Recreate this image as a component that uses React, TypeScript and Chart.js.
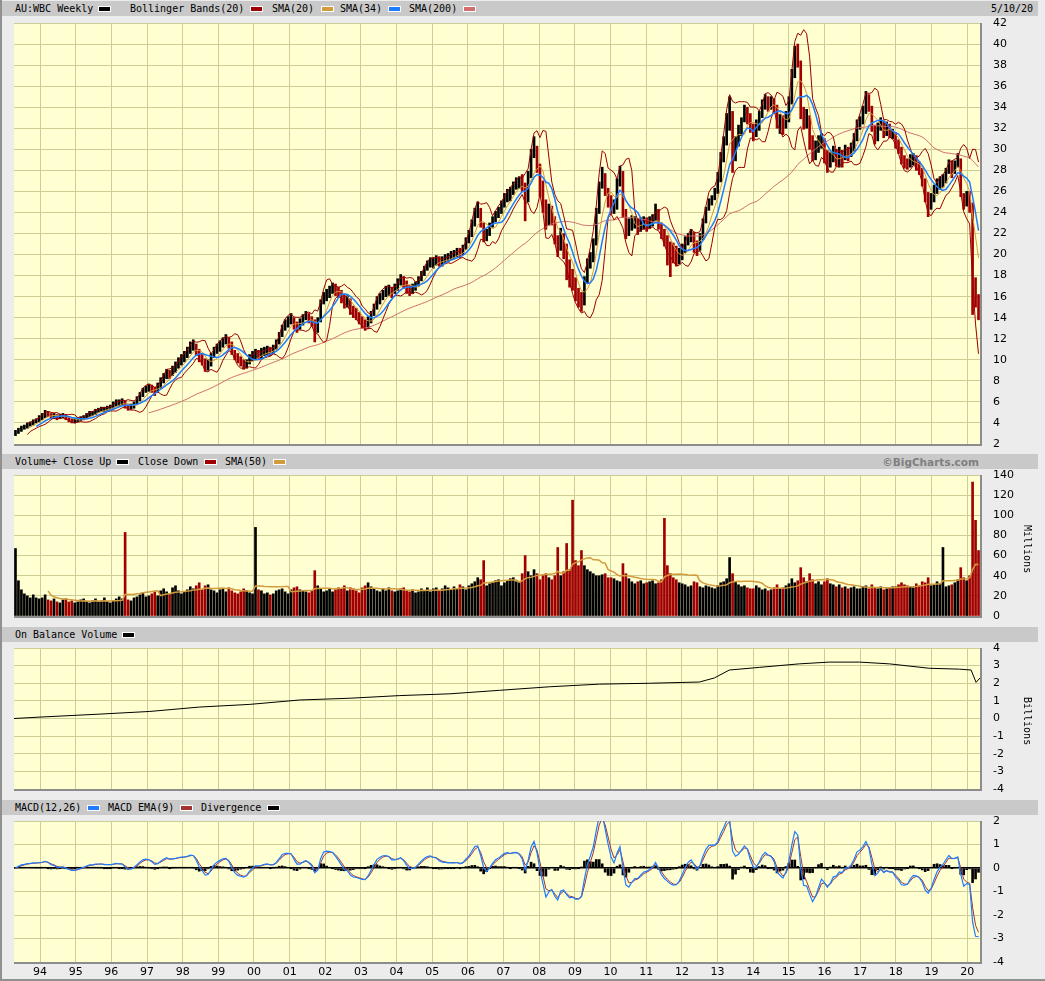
import React, { useEffect, useRef } from "react";
import { Chart, registerables } from "chart.js";
Chart.register(...registerables);

// ---------- axis definitions ----------
const X_MIN = 1993.27;
const X_MAX = 2020.36;
const yearTicks = [1994, 1995, 1996, 1997, 1998, 1999, 2000, 2001, 2002, 2003, 2004, 2005, 2006, 2007, 2008, 2009, 2010, 2011, 2012, 2013, 2014, 2015, 2016, 2017, 2018, 2019, 2020];
const yearLabels = ["94", "95", "96", "97", "98", "99", "00", "01", "02", "03", "04", "05", "06", "07", "08", "09", "10", "11", "12", "13", "14", "15", "16", "17", "18", "19", "20"];

// ---------- monthly closes (AUD), Apr 1993 .. May 2020 ----------
const closes: number[] = [
  3.0, 3.3, 3.5, 3.6, 3.8, 3.9, 4.1, 4.2, 4.4,
  4.6, 4.9, 4.8, 4.6, 4.7, 4.5, 4.6, 4.7, 4.5, 4.3, 4.2, 4.2,
  4.3, 4.4, 4.5, 4.7, 4.9, 4.9, 5.1, 5.2, 5.3, 5.3, 5.4, 5.5,
  5.7, 5.9, 5.9, 6.0, 5.6, 5.4, 5.5, 5.8, 6.2, 6.6, 7.0, 7.2,
  7.3, 7.2, 7.0, 7.4, 7.9, 8.3, 8.7, 8.6, 9.0, 9.3, 9.7, 10.0,
  10.3, 10.7, 11.2, 11.4, 10.9, 10.2, 10.0, 9.3, 9.5, 10.2, 10.7, 11.0,
  11.3, 11.7, 11.9, 11.6, 10.8, 10.3, 10.0, 9.8, 9.5, 9.6, 10.1, 10.3,
  10.5, 10.4, 10.6, 10.8, 10.9, 10.8, 11.0, 11.5, 12.2, 12.9, 13.3, 13.6,
  13.9, 13.3, 13.0, 13.4, 13.9, 14.2, 13.9, 13.6, 12.6, 13.4, 15.3, 16.0,
  16.2, 16.5, 16.8, 16.6, 16.4, 16.0, 15.5, 15.6, 14.8, 14.5, 14.3, 13.9,
  13.5, 13.2, 13.6, 14.2, 14.8, 15.5, 15.8, 16.2, 16.5, 16.6, 16.4, 16.8,
  17.2, 17.6, 17.3, 16.8, 16.6, 16.8, 17.0, 17.5, 18.0, 18.5, 18.9, 19.2,
  19.2, 19.5, 19.3, 19.4, 19.6, 19.7, 19.9, 20.0, 20.2, 20.1, 20.5, 21.2,
  21.8, 22.8, 23.8, 24.2, 23.0, 21.7, 21.8, 22.6, 23.2, 23.7, 24.0, 24.6,
  25.2, 25.6, 25.8, 26.4, 26.8, 26.9, 26.5, 25.0, 27.4, 29.5, 30.2, 28.5,
  26.5, 25.0, 23.0, 24.0, 23.5, 21.5, 20.5, 21.5, 20.5, 19.0, 18.0, 17.5,
  16.3, 15.6, 15.3, 17.5, 18.8, 19.5, 21.0, 24.0, 26.5, 27.5, 26.0, 25.2,
  24.5, 24.5, 26.8, 27.8, 24.0, 22.3, 22.5, 23.0, 23.0, 22.5, 22.8, 23.0,
  22.8, 23.0, 23.3, 24.0, 22.8, 22.0, 21.5, 21.0, 20.3, 19.8, 19.5, 19.7,
  20.3, 21.0, 21.5, 21.8, 21.0, 20.5, 21.5, 23.0, 24.0, 24.8, 25.2, 25.8,
  27.0, 29.0, 30.5, 32.5, 33.5, 29.0, 30.5, 31.5, 32.5, 33.5, 33.2, 32.0,
  31.5, 32.0, 33.0, 34.0, 34.5, 34.2, 34.5, 34.0, 32.5, 32.5, 32.0, 33.0,
  34.5, 37.0, 39.0, 38.5, 33.5, 32.5, 33.0, 31.0, 29.5, 30.0, 30.5, 31.0,
  29.5, 28.5, 29.0, 29.5, 29.0, 29.5, 29.0, 29.8, 29.5, 30.0, 31.0, 32.2,
  32.5, 33.5, 34.8, 34.0, 32.0, 31.0, 32.0, 32.5, 31.5, 32.0, 31.5, 31.5,
  30.5, 30.0, 29.0, 28.8, 28.5, 29.0, 29.0, 28.5, 28.0, 27.0, 25.5, 24.8,
  25.2, 26.0, 26.5, 26.8, 27.0, 27.8, 28.5, 28.0, 28.5, 29.0, 26.0, 24.8,
  25.5, 24.8, 17.5, 15.8, 14.8,
];
const highs: number[] = [
  3.3, 3.5, 3.7, 3.8, 4.0, 4.1, 4.3, 4.4, 4.7,
  4.9, 5.2, 5.1, 4.9, 4.9, 4.8, 4.8, 4.9, 4.8, 4.6, 4.4, 4.4,
  4.5, 4.6, 4.7, 4.9, 5.1, 5.1, 5.3, 5.4, 5.5, 5.5, 5.6, 5.7,
  6.0, 6.2, 6.2, 6.3, 6.1, 5.8, 5.8, 6.0, 6.5, 6.9, 7.3, 7.5,
  7.7, 7.6, 7.4, 7.8, 8.3, 8.7, 9.1, 9.0, 9.4, 9.8, 10.2, 10.5,
  10.8, 11.2, 11.7, 11.9, 11.5, 11.0, 10.5, 10.1, 10.0, 10.6, 11.2, 11.5,
  11.8, 12.1, 12.4, 12.1, 11.7, 10.9, 10.6, 10.3, 10.0, 10.0, 10.5, 10.8,
  11.0, 10.9, 11.1, 11.2, 11.3, 11.2, 11.4, 11.9, 12.6, 13.3, 13.8, 14.1,
  14.4, 14.0, 13.6, 13.9, 14.3, 14.6, 14.4, 14.1, 13.8, 14.0, 15.7, 16.4,
  16.7, 17.0, 17.3, 17.2, 16.9, 16.6, 16.2, 16.1, 15.8, 15.1, 14.9, 14.5,
  14.1, 13.8, 14.1, 14.6, 15.3, 16.0, 16.3, 16.6, 17.0, 17.1, 16.9, 17.2,
  17.7, 18.1, 17.9, 17.5, 17.1, 17.2, 17.4, 17.9, 18.4, 18.9, 19.4, 19.7,
  19.7, 19.9, 19.8, 19.8, 20.0, 20.1, 20.3, 20.4, 20.6, 20.6, 20.9, 21.6,
  22.3, 23.3, 24.4, 25.0, 24.4, 23.0, 22.4, 23.0, 23.6, 24.1, 24.5, 25.1,
  25.8, 26.2, 26.4, 26.9, 27.3, 27.4, 27.6, 26.8, 27.9, 30.0, 31.2, 30.3,
  28.6, 27.0, 25.2, 24.8, 24.6, 23.6, 21.8, 22.5, 22.0, 21.0, 19.5, 18.6,
  17.8, 16.8, 16.4, 17.9, 19.6, 20.2, 21.5, 24.4, 26.9, 28.3, 27.7, 26.3,
  25.6, 25.2, 27.2, 28.4, 27.9, 24.3, 23.4, 23.7, 23.6, 23.4, 23.5, 23.6,
  23.5, 23.6, 23.8, 24.8, 24.3, 23.0, 22.4, 21.8, 21.2, 21.1, 20.8, 20.6,
  21.0, 21.7, 22.0, 22.4, 22.1, 21.3, 22.0, 23.4, 24.5, 25.3, 25.6, 26.3,
  27.8, 29.7, 31.2, 33.4, 35.0, 33.6, 31.2, 32.3, 33.0, 34.2, 34.0, 33.4,
  32.4, 32.8, 33.6, 34.7, 35.2, 35.0, 35.0, 34.8, 34.2, 33.3, 33.2, 33.6,
  35.0, 37.6, 39.8, 40.0, 38.4, 34.0, 33.8, 33.2, 31.3, 30.8, 31.3, 31.5,
  31.0, 29.9, 29.7, 30.3, 30.0, 30.2, 29.9, 30.4, 30.2, 30.6, 31.5, 32.8,
  33.1, 34.1, 35.5, 35.2, 34.1, 32.3, 32.5, 33.0, 32.7, 32.6, 32.4, 31.9,
  31.6, 30.9, 30.2, 29.4, 29.1, 29.5, 29.6, 29.4, 28.8, 28.2, 27.2, 25.9,
  25.8, 26.6, 27.2, 27.4, 27.6, 28.2, 29.0, 28.9, 28.9, 29.6, 29.1, 25.8,
  26.0, 26.0, 24.9, 17.8, 16.2,
];
const lows: number[] = [
  2.8, 3.0, 3.2, 3.4, 3.5, 3.7, 3.8, 4.0, 4.1,
  4.3, 4.5, 4.6, 4.4, 4.4, 4.3, 4.4, 4.5, 4.3, 4.1, 4.0, 4.0,
  4.1, 4.2, 4.3, 4.4, 4.6, 4.7, 4.8, 5.0, 5.1, 5.1, 5.2, 5.3,
  5.4, 5.6, 5.6, 5.7, 5.4, 5.2, 5.3, 5.4, 5.8, 6.1, 6.5, 6.9,
  7.0, 6.9, 6.6, 6.9, 7.3, 7.8, 8.2, 8.2, 8.5, 8.8, 9.2, 9.5,
  9.8, 10.2, 10.6, 10.9, 10.4, 9.8, 9.5, 8.9, 9.0, 9.4, 10.2, 10.6,
  10.8, 11.2, 11.5, 11.1, 10.5, 10.0, 9.7, 9.4, 9.1, 9.2, 9.6, 9.9,
  10.0, 10.0, 10.1, 10.4, 10.5, 10.4, 10.6, 11.0, 11.5, 12.2, 12.8, 13.1,
  13.4, 12.9, 12.6, 12.9, 13.3, 13.8, 13.5, 13.2, 11.7, 12.6, 13.6, 15.3,
  15.6, 15.9, 16.3, 16.1, 15.9, 15.4, 14.9, 15.0, 14.3, 14.0, 13.8, 13.4,
  13.0, 12.8, 13.0, 13.5, 14.2, 14.8, 15.3, 15.7, 16.0, 16.1, 15.9, 16.3,
  16.6, 17.1, 16.8, 16.3, 16.1, 16.3, 16.6, 17.0, 17.5, 18.0, 18.5, 18.8,
  18.7, 19.0, 18.9, 18.9, 19.2, 19.3, 19.5, 19.6, 19.8, 19.7, 20.0, 20.5,
  21.1, 21.7, 22.7, 23.5, 22.6, 21.2, 21.3, 21.8, 22.6, 23.1, 23.5, 23.9,
  24.5, 25.0, 25.1, 25.7, 26.2, 26.3, 26.0, 23.2, 25.0, 27.3, 29.2, 27.8,
  25.5, 24.0, 22.4, 22.8, 22.8, 21.0, 19.8, 20.4, 19.6, 17.6, 16.9, 16.6,
  15.6, 15.0, 14.6, 15.2, 17.3, 18.7, 19.3, 20.9, 23.9, 26.3, 25.6, 24.5,
  23.9, 23.9, 24.3, 26.5, 23.5, 21.5, 21.8, 22.3, 22.5, 21.9, 22.2, 22.4,
  22.2, 22.5, 22.7, 23.2, 22.4, 21.5, 20.8, 19.0, 17.9, 19.2, 18.9, 19.1,
  19.5, 20.2, 20.9, 21.2, 20.2, 19.9, 20.4, 21.4, 23.0, 24.2, 24.7, 25.2,
  25.8, 26.9, 28.8, 30.4, 31.8, 27.8, 28.9, 30.3, 31.3, 32.6, 32.4, 31.6,
  30.8, 31.2, 31.8, 33.0, 33.8, 33.6, 33.8, 33.4, 32.0, 31.5, 31.4, 32.0,
  32.6, 34.3, 36.8, 37.8, 32.9, 31.9, 32.0, 30.0, 28.9, 29.0, 29.7, 30.1,
  28.7, 27.8, 28.3, 28.8, 28.4, 28.3, 28.3, 29.0, 28.9, 29.3, 29.8, 30.8,
  31.9, 32.4, 33.4, 33.6, 31.7, 30.5, 30.8, 31.8, 31.1, 31.3, 31.1, 31.0,
  30.1, 29.6, 28.6, 28.2, 28.1, 28.3, 28.5, 28.0, 27.6, 26.5, 25.0, 23.6,
  24.3, 25.0, 25.8, 26.2, 26.4, 26.8, 27.7, 27.3, 27.7, 28.3, 25.5, 24.3,
  24.6, 24.0, 14.3, 15.0, 13.8,
];

// ---------- weekly volume (millions) per month, incl. visible spikes ----------
const volumes: number[] = [
  67, 35, 26, 22, 20, 18, 21, 18, 17,
  18, 21, 16, 15, 17, 14, 13, 16, 17, 14, 15, 13,
  14, 16, 17, 14, 13, 15, 17, 14, 15, 18, 14, 13,
  15, 17, 19, 17, 83, 16, 15, 18, 19, 21, 23, 19,
  20, 22, 24, 20, 25, 27, 24, 22, 28, 30, 25, 22,
  24, 26, 29, 27, 30, 33, 26, 30, 31, 26, 25, 23,
  26, 27, 24, 28, 25, 23, 22, 24, 27, 25, 23, 22,
  88, 26, 25, 22, 23, 21, 22, 25, 26, 27, 24, 22,
  26, 28, 29, 26, 25, 24, 23, 25, 45, 30, 27, 24,
  25, 27, 24, 26, 28, 27, 30, 25, 28, 27, 25, 23,
  28, 30, 33, 29, 27, 25, 24, 27, 25, 28, 25, 24,
  25, 27, 28, 25, 24, 26, 23, 24, 27, 25, 28, 24,
  27, 28, 25, 27, 30, 28, 26, 29, 27, 31, 29, 26,
  30, 32, 34, 38, 36, 55, 30, 32, 33, 35, 36, 30,
  33, 35, 37, 38, 34, 33, 42, 60, 44, 40, 46, 42,
  36, 40, 42, 38, 36, 40, 68, 40, 44, 72, 46, 115,
  55, 50, 65, 50, 46, 44, 42, 40, 40, 41, 42, 38,
  38, 37, 35, 34, 52, 42, 37, 34, 32, 34, 35, 32,
  33, 34, 35, 32, 33, 36, 97, 50, 42, 38, 36, 33,
  32, 31, 29, 30, 34, 33, 29, 28, 30, 29, 28, 27,
  30, 33, 34, 37, 58, 42, 34, 31, 29, 30, 28, 27,
  27, 30, 28, 26, 27, 25, 26, 28, 31, 27, 28, 30,
  32, 37, 33, 35, 48, 38, 34, 42, 36, 32, 34, 31,
  34, 37, 32, 31, 29, 31, 28, 29, 27, 28, 29, 27,
  27, 29, 30, 27, 31, 28, 27, 29, 26, 27, 28, 29,
  29, 31, 33, 31, 30, 29, 28, 32, 30, 34, 33, 38,
  30, 31, 34, 32, 68, 29, 30, 31, 33, 36, 48, 38,
  35, 40, 133, 95, 65,
];

// ---------- On Balance Volume (billions), read at dates ----------
const obvYears: number[] = [1993.27, 1994.0, 1995.68, 1997.08, 1998.48, 1999.88, 2001.28, 2002.69, 2004.09, 2005.49, 2006.89, 2008.29, 2009.69, 2011.09, 2012.49, 2012.91, 2013.33, 2014.17, 2015.29, 2016.13, 2016.98, 2017.82, 2018.94, 2019.78, 2020.11, 2020.25, 2020.36];
const obvValues: number[] = [0.0, 0.08, 0.25, 0.4, 0.65, 0.8, 1.05, 1.15, 1.3, 1.4, 1.6, 1.8, 1.95, 2.0, 2.07, 2.3, 2.75, 2.9, 3.1, 3.2, 3.2, 3.1, 2.85, 2.8, 2.75, 2.05, 2.3];

// indicator periods (weekly periods expressed in monthly samples)
const BB_PERIOD = 5; // 20 weeks
const SMA34_PERIOD = 8; // 34 weeks
const SMA200_PERIOD = 46; // 200 weeks
const VOL_SMA_PERIOD = 12; // 50 weeks
const WEEKS_PER_SAMPLE = 4.35;

// ---------- colours ----------
const PLOT_BG = "#FFFFD2";
const GRID = "#CDCD96";
const UP = "#000000";
const DOWN = "#A00000";
const BB_COL = "#9C0000";
const SMA20_COL = "#D29B3C";
const SMA34_COL = "#1E7DFF";
const SMA200_COL = "#D26E6E";
const MACD_COL = "#1E7DFF";
const SIG_COL = "#A03232";

const N = closes.length;
const xs = closes.map((_, i) => X_MIN + ((i + 0.5) * (X_MAX - X_MIN)) / N);

function sma(a: number[], n: number): (number | null)[] {
  return a.map((_, i) => {
    if (i < n - 1) return null;
    let s = 0;
    for (let k = i - n + 1; k <= i; k++) s += a[k];
    return s / n;
  });
}
function stdev(a: number[], n: number): (number | null)[] {
  const m = sma(a, n);
  return a.map((_, i) => {
    if (m[i] == null) return null;
    let s = 0;
    for (let k = i - n + 1; k <= i; k++) s += (a[k] - (m[i] as number)) ** 2;
    return Math.sqrt(s / n);
  });
}
function ema(a: number[], weeks: number): number[] {
  const aw = 2 / (weeks + 1);
  const alpha = 1 - Math.pow(1 - aw, WEEKS_PER_SAMPLE);
  const out: number[] = [];
  a.forEach((v, i) => out.push(i === 0 ? v : alpha * v + (1 - alpha) * out[i - 1]));
  return out;
}
const pts = (arr: (number | null)[]) =>
  arr.map((y, i) => (y == null ? null : { x: xs[i], y })).filter((p) => p !== null) as { x: number; y: number }[];

const mid = sma(closes, BB_PERIOD);
const sd = stdev(closes, BB_PERIOD);
const bbUp = mid.map((m, i) => (m == null ? null : m + 2 * (sd[i] as number)));
const bbLo = mid.map((m, i) => (m == null ? null : m - 2 * (sd[i] as number)));
const sma34 = sma(closes, SMA34_PERIOD);
const sma200 = sma(closes, SMA200_PERIOD);
const upFlags = closes.map((c, i) => (i === 0 ? true : c >= closes[i - 1]));
const volSma = sma(volumes, VOL_SMA_PERIOD);
const e12 = ema(closes, 12);
const e26 = ema(closes, 26);
const macd = e12.map((v, i) => v - e26[i]);
const sig = ema(macd, 9);
const div = macd.map((v, i) => v - sig[i]);

const bgPlugin = {
  id: "bg",
  beforeDraw(chart: any) {
    const { ctx, chartArea: a } = chart;
    ctx.save();
    ctx.fillStyle = PLOT_BG;
    ctx.fillRect(a.left, a.top, a.right - a.left, a.bottom - a.top);
    ctx.restore();
  },
  afterDraw(chart: any) {
    const { ctx, chartArea: a } = chart;
    ctx.save();
    ctx.strokeStyle = "#8C8C8C";
    ctx.lineWidth = 2;
    ctx.beginPath();
    ctx.moveTo(a.left, a.bottom + 1);
    ctx.lineTo(a.right + 1, a.bottom + 1);
    ctx.lineTo(a.right + 1, a.top);
    ctx.stroke();
    ctx.restore();
  },
};

function xScale(showLabels: boolean) {
  return {
    type: "linear",
    min: X_MIN,
    max: X_MAX,
    offset: false,
    afterBuildTicks: (s: any) => {
      s.ticks = yearTicks.map((v) => ({ value: v }));
    },
    afterFit: (s: any) => {
      s.height = showLabels ? 19 : 0;
    },
    grid: { color: GRID, lineWidth: 1, drawTicks: false, offset: false },
    border: { display: false },
    ticks: {
      display: showLabels,
      autoSkip: false,
      maxRotation: 0,
      padding: 4,
      color: "#000",
      font: { family: "DejaVu Sans", size: 11 },
      callback: (v: any) => {
        const i = yearTicks.indexOf(v);
        return i >= 0 ? yearLabels[i] : "";
      },
    },
  };
}
function yScale(min: number, max: number, step: number, zeroLine = false) {
  return {
    type: "linear",
    position: "right",
    min,
    max,
    beginAtZero: false,
    afterFit: (s: any) => {
      s.width = 65;
    },
    grid: {
      color: (c: any) => (zeroLine && c.tick && c.tick.value === 0 ? "#000000" : GRID),
      lineWidth: (c: any) => (zeroLine && c.tick && c.tick.value === 0 ? 1.5 : 1),
      drawTicks: true,
      tickLength: 13,
      tickColor: "rgba(0,0,0,0)",
    },
    border: { display: false },
    ticks: {
      stepSize: step,
      padding: 0,
      color: "#000",
      font: { family: "DejaVu Sans", size: 11 },
      callback: (v: any) => String(v),
    },
  };
}
function baseOptions(padTop: number, padBottom: number, x: any, y: any) {
  return {
    animation: false,
    responsive: false,
    maintainAspectRatio: false,
    events: [],
    layout: { padding: { left: 14, right: 0, top: padTop, bottom: padBottom } },
    plugins: { legend: { display: false }, tooltip: { enabled: false } },
    scales: { x, y },
  };
}
const line = (data: any, color: string, width = 1, order = 1) => ({
  type: "line",
  data,
  borderColor: color,
  borderWidth: width,
  pointRadius: 0,
  fill: false,
  tension: 0,
  order,
});

function priceConfig(): any {
  return {
    type: "bar",
    data: {
      datasets: [
        line(pts(bbUp), BB_COL, 1, 1),
        line(pts(bbLo), BB_COL, 1, 1),
        line(pts(mid), SMA20_COL, 1, 2),
        line(pts(sma34), SMA34_COL, 1.5, 0),
        line(pts(sma200), SMA200_COL, 1, 3),
        {
          type: "bar",
          data: closes.map((c, i) => ({ x: xs[i], y: [lows[i], highs[i]] })),
          backgroundColor: upFlags.map((u) => (u ? UP : DOWN)),
          barThickness: 2,
          order: 10,
        },
      ],
    },
    options: baseOptions(8, 8, xScale(false), yScale(2, 42, 2)),
  };
}
function volumeConfig(): any {
  return {
    type: "bar",
    data: {
      datasets: [
        line(pts(volSma), SMA20_COL, 1.5, 0),
        {
          type: "bar",
          data: volumes.map((v, i) => ({ x: xs[i], y: v })),
          backgroundColor: upFlags.map((u) => (u ? UP : DOWN)),
          barThickness: 2,
          order: 10,
        },
      ],
    },
    options: baseOptions(8, 8, xScale(false), yScale(0, 140, 20)),
  };
}
function obvConfig(): any {
  return {
    type: "line",
    data: {
      datasets: [line(obvYears.map((x, i) => ({ x, y: obvValues[i] })), "#000000", 1, 0)],
    },
    options: baseOptions(8, 8, xScale(false), yScale(-4, 4, 1)),
  };
}
function macdConfig(): any {
  return {
    type: "bar",
    data: {
      datasets: [
        line(pts(sig), SIG_COL, 1, 1),
        line(pts(macd), MACD_COL, 1.2, 0),
        {
          type: "bar",
          data: div.map((d, i) => ({ x: xs[i], y: d })),
          backgroundColor: "#000000",
          barThickness: 2,
          order: 10,
        },
      ],
    },
    options: baseOptions(8, 0, xScale(true), yScale(-4, 2, 1, true)),
  };
}

function Panel({ top, height, make }: { top: number; height: number; make: () => any }) {
  const ref = useRef<HTMLCanvasElement | null>(null);
  useEffect(() => {
    if (!ref.current) return;
    const cfg = make();
    cfg.plugins = [bgPlugin];
    const chart = new Chart(ref.current, cfg);
    return () => chart.destroy();
  }, []);
  return (
    <canvas
      ref={ref}
      width={1045}
      height={height}
      style={{ position: "absolute", left: 0, top, width: 1045, height }}
    />
  );
}

type Item = { x: number; text?: string; swatch?: string };
function Header({ top, items, right }: { top: number; items: Item[]; right?: React.ReactNode }) {
  return (
    <div
      style={{
        position: "absolute",
        left: 2,
        top,
        width: 1036,
        height: 15,
        background: "#C9C9C9",
        fontFamily: "'DejaVu Sans Mono', monospace",
        fontSize: 10,
        color: "#000",
      }}
    >
      {items.map((it, i) =>
        it.swatch ? (
          <div
            key={i}
            style={{
              position: "absolute",
              left: it.x - 2,
              top: 5,
              width: 11,
              height: 4,
              background: it.swatch,
              border: "1px solid #FFFFFF",
            }}
          />
        ) : (
          <div key={i} style={{ position: "absolute", left: it.x - 2, top: 1, lineHeight: "14px", whiteSpace: "pre" }}>
            {it.text}
          </div>
        )
      )}
      {right}
    </div>
  );
}

export default function App() {
  useEffect(() => {
    document.body.style.margin = "0";
  }, []);
  return (
    <div
      style={{
        position: "absolute",
        left: 0,
        top: 0,
        width: 1045,
        height: 981,
        background: "#ECECEC",
        overflow: "hidden",
        borderLeft: "2px solid #909090",
        boxSizing: "border-box",
      }}
    >
      <div style={{ position: "absolute", left: -2, top: 0, width: 1045, height: 981 }}>
        <Header
          top={1}
          items={[
            { x: 15, text: "AU:WBC Weekly" },
            { x: 98, swatch: UP },
            { x: 130, text: "Bollinger Bands(20)" },
            { x: 250, swatch: BB_COL },
            { x: 272, text: "SMA(20)" },
            { x: 321, swatch: SMA20_COL },
            { x: 340, text: "SMA(34)" },
            { x: 388, swatch: SMA34_COL },
            { x: 409, text: "SMA(200)" },
            { x: 463, swatch: SMA200_COL },
            { x: 991, text: "5/10/20" },
          ]}
        />
        <Panel top={15} height={437} make={priceConfig} />
        <Header
          top={454}
          items={[
            { x: 15, text: "Volume+ Close Up" },
            { x: 116, swatch: UP },
            { x: 138, text: "Close Down" },
            { x: 204, swatch: DOWN },
            { x: 225, text: "SMA(50)" },
            { x: 273, swatch: SMA20_COL },
          ]}
          right={
            <div
              style={{
                position: "absolute",
                right: 1036 - 977,
                top: 1,
                lineHeight: "14px",
                fontFamily: "'DejaVu Sans', sans-serif",
                fontWeight: "bold",
                fontSize: 10.5,
                color: "#7F7F7F",
              }}
            >
              ©BigCharts.com
            </div>
          }
        />
        <Panel top={467} height={157} make={volumeConfig} />
        <Header top={627} items={[{ x: 15, text: "On Balance Volume" }, { x: 122, swatch: UP }]} />
        <Panel top={640} height={157} make={obvConfig} />
        <Header
          top={800}
          items={[
            { x: 15, text: "MACD(12,26)" },
            { x: 87, swatch: MACD_COL },
            { x: 108, text: "MACD EMA(9)" },
            { x: 180, swatch: SIG_COL },
            { x: 201, text: "Divergence" },
            { x: 267, swatch: UP },
          ]}
        />
        <Panel top={813} height={168} make={macdConfig} />
        <div
          style={{
            position: "absolute",
            left: 1022,
            top: 525,
            writingMode: "vertical-rl",
            fontFamily: "'DejaVu Sans Mono', monospace",
            fontSize: 10,
          }}
        >
          Millions
        </div>
        <div
          style={{
            position: "absolute",
            left: 1022,
            top: 697,
            writingMode: "vertical-rl",
            fontFamily: "'DejaVu Sans Mono', monospace",
            fontSize: 10,
          }}
        >
          Billions
        </div>
        <div style={{ position: "absolute", left: 0, top: 979, width: 1045, height: 2, background: "#909090" }} />
      </div>
    </div>
  );
}
